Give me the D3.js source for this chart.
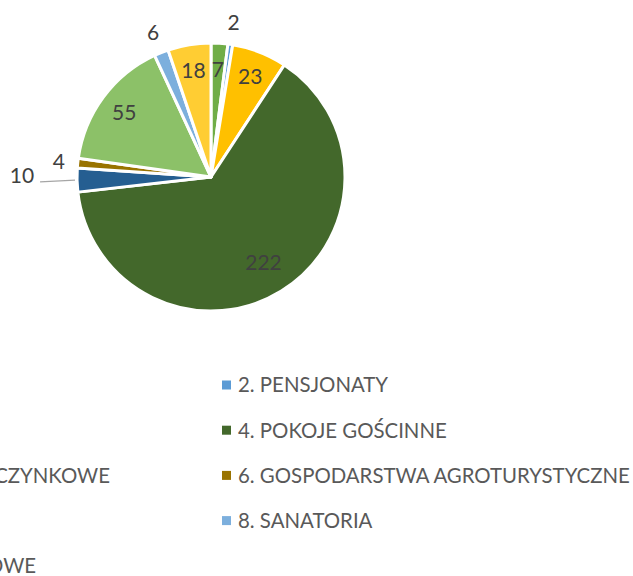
<!DOCTYPE html>
<html>
<head>
<meta charset="utf-8">
<script src="https://cdn.jsdelivr.net/npm/d3@7"></script>
<style>
  body { margin: 0; background: #fff; }
  svg { display: block; font-family: Lato, "Open Sans", sans-serif; }
</style>
</head>
<body>
<div id="chart"></div>
<script>
// Chart size
var svgWidth = 633;
var svgHeight = 576;

// Data
var categories = [
  "1. HOTELE",
  "2. PENSJONATY",
  "3. MOTELE",
  "4. POKOJE GOŚCINNE",
  "5. DOMY WYPOCZYNKOWE",
  "6. GOSPODARSTWA AGROTURYSTYCZNE",
  "7. HOSTELE",
  "8. SANATORIA",
  "9. POLA BIWAKOWE"
];
var values = [7, 2, 23, 222, 10, 4, 55, 6, 18];
var colors = ["#70AD47", "#5B9BD5", "#FFC000", "#43682B", "#255E91",
              "#997300", "#8CC168", "#7CAFDD", "#FFCD33"];

var data = categories.map(function (c, i) {
  return { name: c, value: values[i], color: colors[i] };
});

var svg = d3.select("#chart")
  .append("svg")
  .attr("width", svgWidth)
  .attr("height", svgHeight);

// Pie
var cx = 211, cy = 177, radius = 134;
var pieGroup = svg.append("g")
  .attr("transform", `translate(${cx}, ${cy})`);

var pie = d3.pie()
  .sort(null)
  .value(d => d.value);

var arc = d3.arc()
  .innerRadius(0)
  .outerRadius(radius);

var arcs = pie(data);

pieGroup.selectAll("path")
  .data(arcs)
  .enter()
  .append("path")
  .attr("d", arc)
  .attr("fill", d => d.data.color)
  .attr("stroke", "#fff")
  .attr("stroke-width", 3)
  .attr("stroke-linejoin", "round");

// Labels: small slices sit outside the pie
var outside = { 1: 156, 5: 153, 7: 156 };
function labelPos(d, r) {
  var a = (d.startAngle + d.endAngle) / 2;
  return [Math.sin(a) * r, -Math.cos(a) * r];
}

// leader line for the "10" slice
var lead = arcs[4];
var la = (lead.startAngle + lead.endAngle) / 2;
pieGroup.append("line")
  .attr("x1", Math.sin(la) * 136)
  .attr("y1", -Math.cos(la) * 136)
  .attr("x2", Math.sin(la) * 171)
  .attr("y2", -Math.cos(la) * 171 + 1)
  .attr("stroke", "#A6A6A6")
  .attr("stroke-width", 1.3);

pieGroup.selectAll("text.lbl")
  .data(arcs)
  .enter()
  .append("text")
  .attr("class", "lbl")
  .attr("transform", function (d, i) {
    var p;
    if (i === 4) {
      p = labelPos(d, 189);
      p[1] -= 6;
    } else if (outside[i]) {
      p = labelPos(d, outside[i]);
    } else if (i === 3) {
      p = labelPos(d, 100);
    } else {
      p = labelPos(d, 108);
    }
    return `translate(${p[0]}, ${p[1]})`;
  })
  .attr("text-anchor", "middle")
  .attr("dy", "0.36em")
  .style("font-size", "21px")
  .style("fill", "#404040")
  .text(d => d.data.value);

// Legend: two columns, the left one runs off the page
var legend = svg.append("g");
var rightX = 222;
var rowY = 385, rowStep = 45.2;

var items = legend.selectAll("g")
  .data(data)
  .enter()
  .append("g");

items.append("rect")
  .attr("x", 0)
  .attr("y", -4.5)
  .attr("width", 9)
  .attr("height", 9)
  .attr("fill", d => d.color);

items.append("text")
  .attr("x", 16)
  .attr("dy", "0.36em")
  .style("font-size", "20.4px")
  .style("fill", "#595959")
  .text(d => d.name);

// left column placed so that item 5 ends where the reference shows it
var w5 = items.filter((d, i) => i === 4).select("text").node().getComputedTextLength();
var leftX = 110 - 16 - w5;
items.attr("transform", (d, i) =>
  `translate(${i % 2 ? rightX : leftX}, ${rowY + Math.floor(i / 2) * rowStep})`);
</script>
</body>
</html>
